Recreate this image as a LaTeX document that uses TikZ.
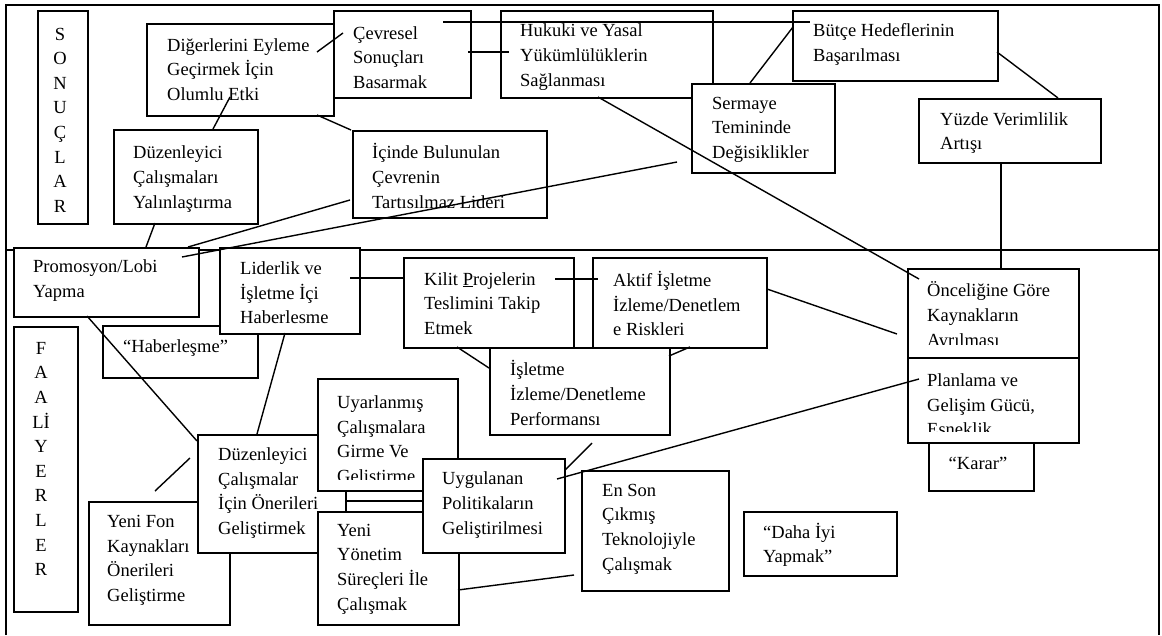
\documentclass[tikz,border=0pt]{standalone}
\usepackage{fontspec}
\setmainfont{Liberation Serif}
\usetikzlibrary{calc}
\begin{document}
\begin{tikzpicture}[x=1pt,y=-1pt,
  box/.style={draw, fill=white, line width=1.6pt, inner sep=0pt, anchor=north west},
  lbl/.style={anchor=west, align=left, inner sep=0pt, font=\fontsize{18.5}{24.6}\selectfont},
  clbl/.style={anchor=center, align=center, inner sep=0pt, font=\fontsize{18.5}{24.6}\selectfont},
  link/.style={line width=1.4pt},
  frame/.style={line width=1.8pt}]
\useasboundingbox (0,0) rectangle (1162,635);

% outer frame and the line between the two halves
\coordinate (ftl) at (6,5);
\coordinate (ftr) at (1159,5);
\coordinate (fbl) at (6,635);
\coordinate (fbr) at (1159,635);
\coordinate (dl) at (6,250);
\coordinate (dr) at (1159,250);
\draw[frame] (fbl) -- (ftl) -- (ftr) -- (fbr);
\draw[frame] (dl) -- (dr);

% ---------- upper half: SONUÇLAR ----------
\node[box, minimum width=50pt, minimum height=213pt] (son) at (37,10) {};
\node[clbl] (sonT) at (60,120) {S\\O\\N\\U\\Ç\\L\\A\\R};

\node[box, minimum width=187pt, minimum height=92pt] (dig) at (146,23) {};
\node[lbl] (digT) at (167,69.5) {Diğerlerini Eyleme\\Geçirmek İçin\\Olumlu Etki};

\node[box, minimum width=137pt, minimum height=87pt] (cev) at (333,10) {};
\node[lbl] (cevT) at (353,57.5) {Çevresel\\Sonuçları\\Basarmak};

\node[box, minimum width=212pt, minimum height=87pt] (huk) at (500,10) {};
\node[lbl] (hukT) at (520,57) {Hukuki ve Yasal\\Yükümlülüklerin\\Sağlanması};

\node[box, minimum width=143pt, minimum height=89pt] (ser) at (691,83) {};
\node[lbl] (serT) at (712,129.5) {Sermaye\\Temininde\\Değisiklikler};

\node[box, minimum width=205pt, minimum height=70pt] (but) at (792,10) {};
\node[lbl] (butT) at (813,44.5) {Bütçe Hedeflerinin\\Başarılması};

\node[box, minimum width=182pt, minimum height=64pt] (yuz) at (918,98) {};
\node[lbl] (yuzT) at (940,133) {Yüzde Verimlilik\\Artışı};

\node[box, minimum width=194pt, minimum height=87pt] (ici) at (352,130) {};
\node[lbl] (iciT) at (372,176) {İçinde Bulunulan\\Çevrenin\\Tartısılmaz Lideri};

\node[box, minimum width=144pt, minimum height=94pt] (yal) at (113,129) {};
\node[lbl] (yalT) at (133,179) {Düzenleyici\\Çalışmaları\\Yalınlaştırma};

% ---------- lower half: FAALİYERLER ----------
\node[box, minimum width=185pt, minimum height=69pt] (pro) at (13,247) {};
\node[lbl] (proT) at (33,280.5) {Promosyon/Lobi\\Yapma};

\node[box, minimum width=155pt, minimum height=52pt] (hab) at (102,325) {};
\node[lbl] (habT) at (123,348) {“Haberleşme”};

\node[box, minimum width=140pt, minimum height=86pt] (lid) at (219,247) {};
\node[lbl] (lidT) at (240,293) {Liderlik ve\\İşletme İçi\\Haberlesme};

\node[box, minimum width=170pt, minimum height=90pt] (kil) at (403,257) {};
\node[lbl] (kilT) at (424,303.5) {Kilit \underline{P}rojelerin\\Teslimini Takip\\Etmek};

\node[box, minimum width=174pt, minimum height=90pt] (akt) at (592,257) {};
\node[lbl] (aktT) at (613,303.5) {Aktif İşletme\\İzleme/Denetlem\\e Riskleri};

\node[box, minimum width=180pt, minimum height=87pt] (isl) at (489,347) {};
\node[lbl] (islT) at (510,393) {İşletme\\İzleme/Denetleme\\Performansı};

% text that runs past the inner margin of its box is cut off there
\node[box, minimum width=171pt, minimum height=89pt] (onc) at (907,268) {};
\begin{scope}
  \clip (907,268) rectangle (1078,344);
  \node[lbl] (oncT) at (927,316) {Önceliğine Göre\\Kaynakların\\Ayrılması};
\end{scope}

\node[box, minimum width=171pt, minimum height=85pt] (pla) at (907,357) {};
\begin{scope}
  \clip (907,357) rectangle (1078,431);
  \node[lbl] (plaT) at (927,405) {Planlama ve\\Gelişim Gücü,\\Esneklik};
\end{scope}

\node[box, minimum width=105pt, minimum height=48pt] (kar) at (928,442) {};
\node[clbl] (karT) at (978,463) {“Karar”};

\node[box, minimum width=64pt, minimum height=285pt] (faa) at (13,326) {};
\node[clbl] (faaT) at (41,459) {F\\A\\A\\Lİ\\Y\\E\\R\\L\\E\\R};

\node[box, minimum width=141pt, minimum height=123pt] (yfon) at (88,501) {};
\node[lbl] (yfonT) at (107,560.5) {Yeni Fon\\Kaynakları\\Önerileri\\Geliştirme};

\node[box, minimum width=148pt, minimum height=118pt] (duz) at (197,434) {};
\node[lbl] (duzT) at (218,493) {Düzenleyici\\Çalışmalar\\İçin Önerileri\\Geliştirmek};

\node[box, minimum width=140pt, minimum height=112pt] (uya) at (317,378) {};
\begin{scope}
  \clip (317,378) rectangle (457,479);
  \node[lbl] (uyaT) at (337,439) {Uyarlanmış\\Çalışmalara\\Girme Ve\\Gelistirme};
\end{scope}

\node[box, minimum width=141pt, minimum height=113pt] (yyon) at (317,511) {};
\node[lbl] (yyonT) at (337,569) {Yeni\\Yönetim\\Süreçleri İle\\Çalışmak};

\node[box, minimum width=142pt, minimum height=94pt] (uyg) at (422,458) {};
\node[lbl] (uygT) at (442,505) {Uygulanan\\Politikaların\\Geliştirilmesi};

\node[box, minimum width=147pt, minimum height=120pt] (ens) at (581,470) {};
\node[lbl] (ensT) at (602,529) {En Son\\Çıkmış\\Teknolojiyle\\Çalışmak};

\node[box, minimum width=153pt, minimum height=64pt] (dah) at (743,511) {};
\node[lbl] (dahT) at (763,545) {“Daha İyi\\Yapmak”};

% ---------- connector end points ----------
\coordinate (digA) at (317,52);   \coordinate (cevA) at (343,33);
\coordinate (digB) at (230,97);   \coordinate (yalA) at (213,129);
\coordinate (digC) at (317,115);  \coordinate (iciA) at (351,130);
\coordinate (cevB) at (468,52);   \coordinate (hukA) at (509,52);
\coordinate (cevC) at (443,22);   \coordinate (butA) at (810,22);
\coordinate (butB) at (793,27);   \coordinate (serA) at (750,83);
\coordinate (butC) at (997,52);   \coordinate (yuzA) at (1058,98);
\coordinate (yuzB) at (1001,162); \coordinate (oncA) at (1001,268);
\coordinate (hukB) at (598,97);   \coordinate (oncB) at (919,279);
\coordinate (serB) at (677,162);  \coordinate (proA) at (182,257);
\coordinate (iciB) at (350,200);  \coordinate (proB) at (188,247);
\coordinate (yalB) at (155,223);  \coordinate (proC) at (146,247);
\coordinate (proD) at (87,316);   \coordinate (duzA) at (197,441);
\coordinate (lidA) at (285,333);  \coordinate (duzB) at (257,434);
\coordinate (lidB) at (350,278);  \coordinate (kilA) at (403,278);
\coordinate (kilB) at (555,279);  \coordinate (aktA) at (598,279);
\coordinate (aktB) at (767,289);  \coordinate (oncC) at (897,334);
\coordinate (kilC) at (457,347);  \coordinate (islA) at (489,368);
\coordinate (islB) at (669,356);  \coordinate (aktC) at (690,347);
\coordinate (islC) at (592,443);  \coordinate (uygA) at (565,470);
\coordinate (plaA) at (919,379);  \coordinate (uygB) at (557,479);
\coordinate (duzC) at (345,501);  \coordinate (uygC) at (422,501);
\coordinate (duzD) at (190,458);  \coordinate (yfonA) at (155,491);
\coordinate (yyonA) at (458,590); \coordinate (ensA) at (574,575);

% ---------- connectors ----------
\draw[link] (digA) -- (cevA);
\draw[link] (digB) -- (yalA);
\draw[link] (digC) -- (iciA);
\draw[link] (cevB) -- (hukA);
\draw[link] (cevC) -- (butA);
\draw[link] (butB) -- (serA);
\draw[link] (butC) -- (yuzA);
\draw[link] (yuzB) -- (oncA);
\draw[link] (hukB) -- (oncB);
\draw[link] (serB) -- (proA);
\draw[link] (iciB) -- (proB);
\draw[link] (yalB) -- (proC);
\draw[link] (proD) -- (duzA);
\draw[link] (lidA) -- (duzB);
\draw[link] (lidB) -- (kilA);
\draw[link] (kilB) -- (aktA);
\draw[link] (aktB) -- (oncC);
\draw[link] (kilC) -- (islA);
\draw[link] (islB) -- (aktC);
\draw[link] (islC) -- (uygA);
\draw[link] (plaA) -- (uygB);
\draw[link] (duzC) -- (uygC);
\draw[link] (duzD) -- (yfonA);
\draw[link] (yyonA) -- (ensA);
\end{tikzpicture}
\end{document}
